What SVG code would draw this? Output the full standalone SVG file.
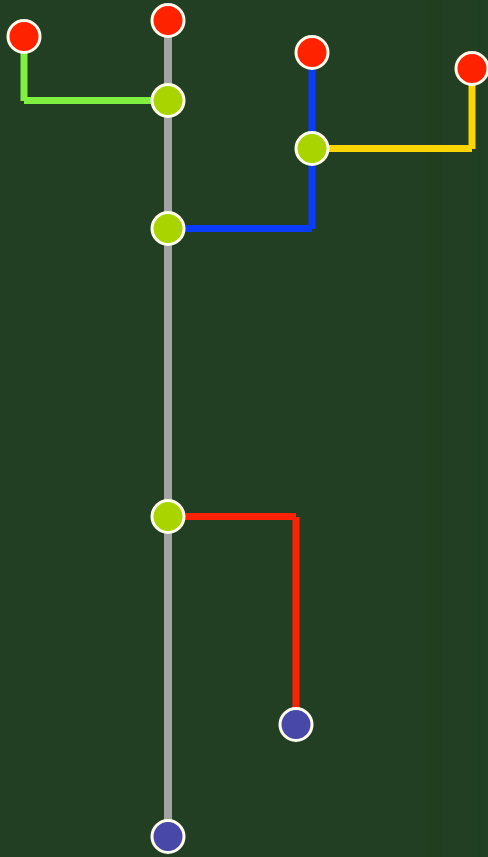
<svg xmlns="http://www.w3.org/2000/svg" width="488" height="857" viewBox="0 0 488 857">
<style>
.n{stroke:#fffff0;stroke-width:3}
.r{fill:#ff2200}.g{fill:#aad400}.b{fill:#4848a8}
.c line{stroke-width:7;stroke-linecap:butt;fill:none}
</style>
<rect width="488" height="857" fill="#223f23"/>
<rect x="427" y="0" width="15" height="857" fill="#213f20"/>
<rect x="478" y="0" width="3" height="857" fill="#1f4020"/>
<g class="c" id="connectors">
<line x1="168" y1="20" x2="168" y2="836" stroke="#a3a3a3" style="stroke-width:8"/>
<line x1="24" y1="36" x2="24" y2="101" stroke="#80f040"/>
<line x1="24" y1="100.5" x2="168" y2="100.5" stroke="#80f040"/>
<line x1="312" y1="52" x2="312" y2="229" stroke="#0a3cff"/>
<line x1="312" y1="228.5" x2="168" y2="228.5" stroke="#0a3cff"/>
<line x1="312" y1="148.5" x2="472" y2="148.5" stroke="#ffd500"/>
<line x1="472" y1="149" x2="472" y2="68" stroke="#ffd500"/>
<line x1="168" y1="516.5" x2="296" y2="516.5" stroke="#ff2200"/>
<line x1="296" y1="517" x2="296" y2="724" stroke="#ff2200"/>
</g>
<g id="n1"><circle class="n r" cx="24" cy="36.5" r="16"/></g>
<g id="n2"><circle class="n r" cx="168" cy="20.5" r="16"/></g>
<g id="n3"><circle class="n g" cx="168" cy="100.5" r="16"/></g>
<g id="n4"><circle class="n r" cx="312" cy="52.5" r="16"/></g>
<g id="n5"><circle class="n r" cx="472" cy="68.5" r="16"/></g>
<g id="n6"><circle class="n g" cx="312" cy="148.5" r="16"/></g>
<g id="n7"><circle class="n g" cx="168" cy="228.5" r="16"/></g>
<g id="n8"><circle class="n g" cx="168" cy="516.5" r="16"/></g>
<g id="n9"><circle class="n b" cx="296" cy="724.5" r="16"/></g>
<g id="n10"><circle class="n b" cx="168" cy="836.5" r="16"/></g>
</svg>
